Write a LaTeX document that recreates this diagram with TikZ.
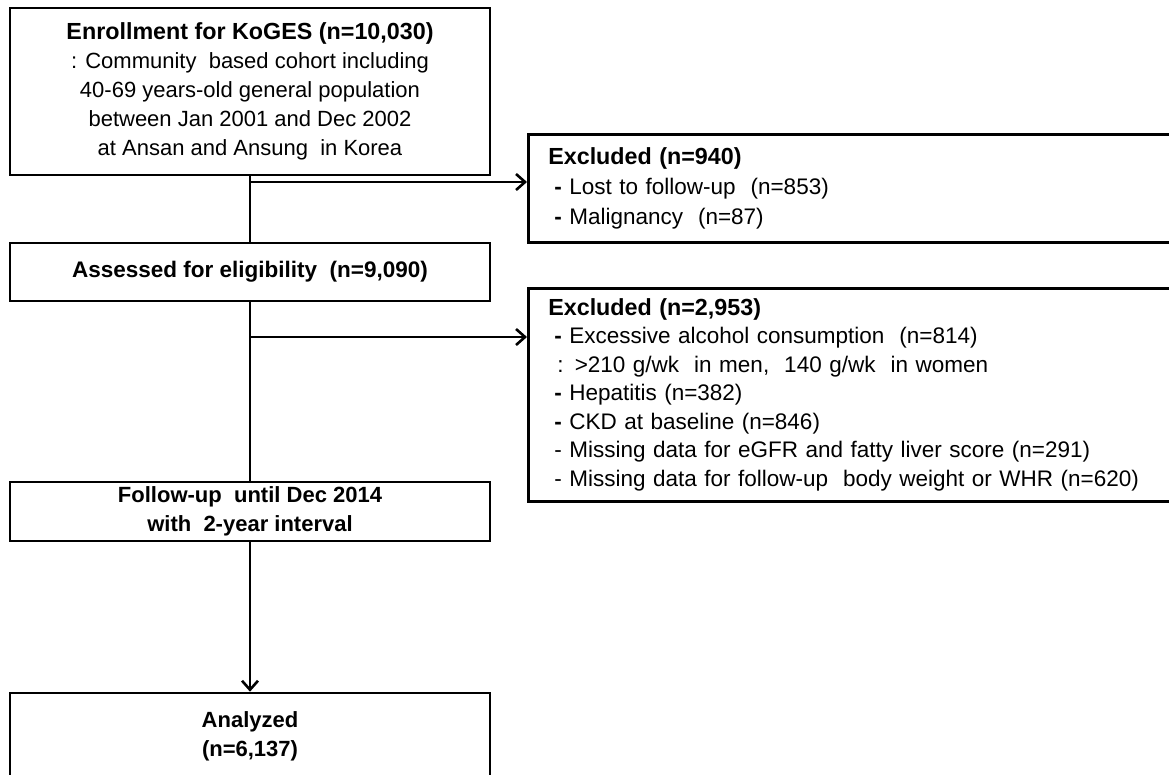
\documentclass[tikz,border=0pt]{standalone}
\usepackage{fontspec}
\setmainfont{Liberation Sans}
\usetikzlibrary{arrows.meta}
\tikzset{
  flowbox/.style={draw, line width=2.6pt, minimum width=480pt, align=center, inner sep=0pt,
    font=\fontsize{22}{29}\selectfont},
  exbox/.style={draw, line width=2.6pt, minimum width=673pt, text width=633pt, align=left,
    inner xsep=20pt, inner ysep=0pt, anchor=north west,
    font=\fontsize{22.5}{28.5}\selectfont},
  conn/.style={line width=2.6pt},
  arr/.style={line width=2.6pt, -{Straight Barb[length=9pt,width=16pt]}},
}
\newcommand{\bigtitle}[1]{{\fontsize{23.3}{29}\selectfont\bfseries #1}}
\begin{document}
\begin{tikzpicture}[x=1pt,y=1pt]
\clip (0,0) rectangle (1169,-774);
\fill[white] (0,0) rectangle (1169,-774);
\node[flowbox, minimum height=167pt] (b1) at (250,-91.5)
  {\bigtitle{Enrollment for KoGES (n=10,030)}\\
   : Community\ \ based cohort including\\
   40-69 years-old general population\\
   between Jan 2001 and Dec 2002\\
   at Ansan and Ansung\ \ in Korea};
\node[flowbox, minimum height=58pt, font=\fontsize{22.5}{29}\selectfont] (b2) at (250,-272)
  {\textbf{Assessed for eligibility\ \ (n=9,090)}};
\node[flowbox, minimum height=59pt, font=\fontsize{22}{30.5}\selectfont] (b3) at (250,-511.5)
  {\raisebox{-1.5pt}{\textbf{Follow-up\ \ until\ Dec 2014}}\\ \textbf{with\ \ 2-year interval}};
\node[flowbox, minimum height=86pt] (b4) at (250,-736)
  {\textbf{Analyzed}\\ \textbf{(n=6,137)}};
\node[exbox, minimum height=108pt, font=\fontsize{22.5}{30}\selectfont] (e1) at (527,-133)
  {\bigtitle{Excluded (n=940)}\\
   \hspace*{6pt}\textbf{-} Lost to follow-up\ \ (n=853)\\
   \hspace*{6pt}\textbf{-} Malignancy\ \ (n=87)};
\node[exbox, minimum height=213pt] (e2) at (527,-287)
  {\bigtitle{Excluded (n=2,953)}\\
   \hspace*{6pt}\textbf{-} Excessive alcohol consumption\ \ (n=814)\\
   \hspace*{9pt}: >210 g/wk\ \ in men,\ \ 140 g/wk\ \ in women\\
   \hspace*{6pt}\textbf{-} Hepatitis (n=382)\\
   \hspace*{6pt}\textbf{-} CKD at baseline (n=846)\\
   \hspace*{6pt}- Missing data for eGFR and fatty liver score (n=291)\\
   \hspace*{6pt}- Missing data for follow-up\ \ body weight or WHR (n=620)};
\coordinate (j1) at (250,-182);
\coordinate (j2) at (250,-337);
\draw[conn] (b1.south) -- (b2.north);
\draw[arr] (j1) -- (j1 -| e1.west);
\draw[conn] (b2.south) -- (b3.north);
\draw[arr] (j2) -- (j2 -| e2.west);
\draw[arr] (b3.south) -- (b4.north);
\end{tikzpicture}
\end{document}
